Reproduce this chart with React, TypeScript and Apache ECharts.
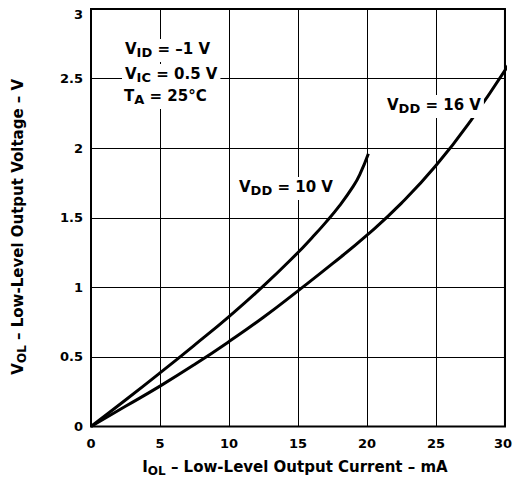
import React, { useEffect, useRef } from "react";
import * as echarts from "echarts";

const xTicks = [0, 5, 10, 15, 20, 25, 30];
const yTicks = [0, 0.5, 1, 1.5, 2, 2.5, 3];
const vdd10I = [0, 2.5, 5, 7.5, 10, 12.5, 15, 16, 17, 18, 19, 19.5, 20.1];
const vdd10V = [0, 0.19, 0.385, 0.585, 0.79, 1.01, 1.25, 1.355, 1.465, 1.585, 1.725, 1.815, 1.96];
const vdd16I = [0, 2.5, 5, 7.5, 10, 12.5, 15, 17.5, 20, 22.5, 25, 27.5, 30.4];
const vdd16V = [0, 0.145, 0.29, 0.445, 0.61, 0.785, 0.975, 1.17, 1.375, 1.605, 1.875, 2.195, 2.62];

const FONT = "'DejaVu Sans', Verdana, sans-serif";

const mk = (main: number, sub: number, drop: number) => ({
  m: { fontSize: main, fontWeight: "bold" as const, fontFamily: FONT, color: "#000", verticalAlign: "top" as const, lineHeight: main + 4 },
  s: { fontSize: sub, fontWeight: "bold" as const, fontFamily: FONT, color: "#000", verticalAlign: "top" as const, lineHeight: sub + 4, padding: [drop + (main - sub) / 2, 0, 0, 0] },
});

const richLabel = mk(15, 13, 4);
const richTitle = mk(15, 12, 4);

export default function App() {
  const ref = useRef<HTMLDivElement>(null);
  useEffect(() => {
    if (!ref.current) return;
    const chart = echarts.init(ref.current, undefined, { renderer: "svg" });
    const label = (x: number, y: number, text: string) => ({
      type: "text",
      x,
      y,
      z: 100,
      style: {
        text,
        rich: richLabel,
        backgroundColor: "#fff",
        padding: [2, 3, 2, 3],
        align: "left",
        verticalAlign: "top",
      },
    });
    const tickFont = { fontSize: 13, fontWeight: "bold", fontFamily: FONT, color: "#000" };
    chart.setOption({
      animation: false,
      backgroundColor: "#fff",
      grid: { left: 91, right: 9, top: 9, bottom: 53, show: true, borderColor: "#000", borderWidth: 2 },
      xAxis: {
        type: "value",
        min: xTicks[0],
        max: xTicks[xTicks.length - 1],
        interval: 5,
        name: "{m|I}{s|OL}{m| – Low-Level Output Current – mA}",
        nameLocation: "middle",
        nameGap: 33,
        nameTextStyle: { rich: richTitle, padding: [0, 6, 0, 0] },
        axisLine: { show: false },
        axisTick: { show: false },
        axisLabel: {
          ...tickFont,
          margin: 10,
          formatter: (v: number) => (v === 30 ? "{r|30}" : String(v)),
          rich: { r: { ...tickFont, padding: [0, 4, 0, 0] } },
        },
        splitLine: { show: true, lineStyle: { color: "#000", width: 1 } },
      },
      yAxis: {
        type: "value",
        min: yTicks[0],
        max: yTicks[yTicks.length - 1],
        interval: 0.5,
        name: "{m|V}{s|OL}{m| – Low-Level Output Voltage – V}",
        nameLocation: "middle",
        nameGap: 62,
        nameTextStyle: { rich: richTitle, padding: [0, 18, 0, 0] },
        axisLine: { show: false },
        axisTick: { show: false },
        axisLabel: {
          ...tickFont,
          margin: 8,
          formatter: (v: number) => (v === 3 ? "{t|3}" : String(v)),
          rich: { t: { ...tickFont, padding: [10, 0, 0, 0] } },
        },
        splitLine: { show: true, lineStyle: { color: "#000", width: 1 } },
      },
      series: [
        {
          type: "line",
          data: vdd10I.map((x, i) => [x, vdd10V[i]]),
          smooth: 0.5,
          symbol: "none",
          lineStyle: { color: "#000", width: 3 },
          clip: true,
        },
        {
          type: "line",
          data: vdd16I.map((x, i) => [x, vdd16V[i]]),
          smooth: 0.5,
          symbol: "none",
          lineStyle: { color: "#000", width: 3 },
          clip: true,
        },
      ],
      graphic: [
        label(122, 39, "{m|V}{s|ID}{m| = –1 V}"),
        label(122, 64, "{m|V}{s|IC}{m| = 0.5 V}"),
        label(121, 86, "{m|T}{s|A}{m| = 25°C}"),
        label(384, 95, "{m|V}{s|DD}{m| = 16 V}"),
        label(236, 177, "{m|V}{s|DD}{m| = 10 V}"),
      ],
    });
    return () => chart.dispose();
  }, []);
  return <div ref={ref} style={{ width: 515, height: 482, position: "absolute", left: 0, top: 0 }} />;
}
